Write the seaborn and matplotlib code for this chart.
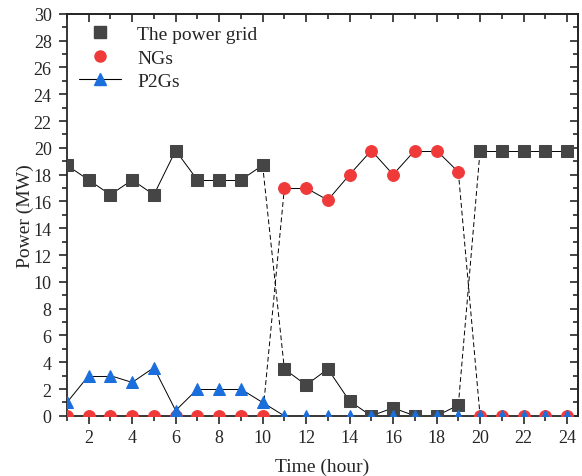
import numpy as np
import pandas as pd
import seaborn as sns
import matplotlib.pyplot as plt
from matplotlib.lines import Line2D
from matplotlib.ticker import MultipleLocator

hours = list(range(1, 25))
grid_power = [18.7, 17.6, 16.5, 17.6, 16.5, 19.8, 17.6, 17.6, 17.6, 18.7,
              3.5, 2.3, 3.5, 1.1, 0.0, 0.6, 0.0, 0.0, 0.8,
              19.8, 19.8, 19.8, 19.8, 19.8]
ngs_power = [0, 0, 0, 0, 0, 0, 0, 0, 0, 0,
             17.0, 17.0, 16.1, 18.0, 19.8, 18.0, 19.8, 19.8, 18.2,
             0, 0, 0, 0, 0]
p2gs_power = [1.0, 3.0, 3.0, 2.5, 3.6, 0.4, 2.0, 2.0, 2.0, 1.0,
              0, 0, 0, 0, 0, 0, 0, 0, 0, 0, 0, 0, 0, 0]

series = [
    ("The power grid", grid_power, "s", "#454545", 8.5),
    ("NGs", ngs_power, "o", "#f03a3a", 8.5),
    ("P2Gs", p2gs_power, "^", "#1a6fdc", 8.5),
]

sns.set_theme(style="ticks")
plt.rcParams['font.family'] = ['Liberation Serif', 'DejaVu Serif']

fig = plt.figure(figsize=(5.82, 4.77), dpi=100)
ax = fig.add_axes([0.115, 0.126, 0.878, 0.843])

# verbindungslinien: gestrichelt bei grossen spruengen
for name, vals, m, c, ms in series:
    for i in range(len(hours) - 1):
        jump = abs(vals[i + 1] - vals[i]) > 5
        ax.plot(hours[i:i + 2], vals[i:i + 2], color='black',
                lw=0.7, ls=(0, (5, 3)) if jump else '-', zorder=2)

for name, vals, m, c, ms in series:
    df = pd.DataFrame({'t': hours, 'p': vals})
    sns.lineplot(data=df, x='t', y='p', ax=ax, linestyle='', marker=m,
                 markersize=ms, markerfacecolor=c, markeredgecolor=c,
                 color=c, zorder=3, clip_on=True)

ax.set_xlim(1, 24.5)
ax.set_ylim(0, 30)
ax.xaxis.set_major_locator(MultipleLocator(2))
ax.xaxis.set_minor_locator(MultipleLocator(1))
ax.yaxis.set_major_locator(MultipleLocator(2))
ax.yaxis.set_minor_locator(MultipleLocator(1))
ax.tick_params(which='both', direction='out', labelsize=13, width=1.2)
ax.tick_params(which='major', length=6)
ax.tick_params(which='minor', length=3.5)
ax.tick_params(axis='y', pad=5)
for sp in ax.spines.values():
    sp.set_linewidth(1.3)
    sp.set_visible(True)

# innen liegende ticks oben und rechts
top = ax.secondary_xaxis('top')
right = ax.secondary_yaxis('right')
top.xaxis.set_major_locator(MultipleLocator(2))
top.xaxis.set_minor_locator(MultipleLocator(1))
right.yaxis.set_major_locator(MultipleLocator(2))
right.yaxis.set_minor_locator(MultipleLocator(1))
for sec in (top, right):
    sec.tick_params(which='both', direction='in', width=1.2,
                    labeltop=False, labelright=False)
    sec.tick_params(which='major', length=6)
    sec.tick_params(which='minor', length=3.5)
    for sp in sec.spines.values():
        sp.set_linewidth(1.3)

ax.set_xlabel('Time (hour)', fontsize=14, labelpad=8)
ax.set_ylabel('Power (MW)', fontsize=14, labelpad=0)

handles = [
    Line2D([], [], ls='', marker='s', color='#454545', markersize=8),
    Line2D([], [], ls='', marker='o', color='#f03a3a', markersize=8),
    Line2D([], [], ls='-', lw=0.8, marker='^', color='black',
           markerfacecolor='#1a6fdc', markeredgecolor='#1a6fdc', markersize=8),
]
ax.legend(handles, [s[0] for s in series], loc='upper left', frameon=False,
          fontsize=14, handlelength=2.2, borderaxespad=0.2, labelspacing=0.3)

fig.savefig('out.png', dpi=100)
